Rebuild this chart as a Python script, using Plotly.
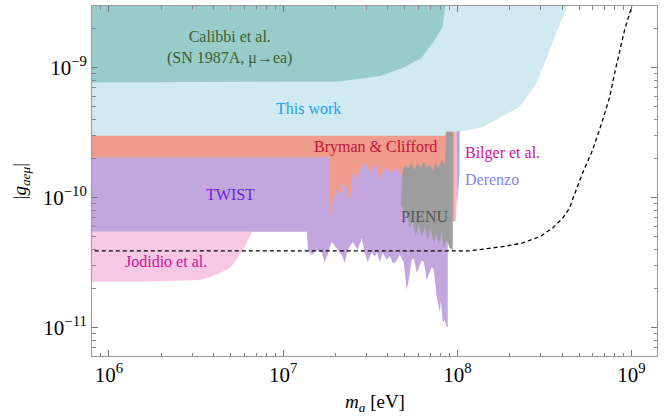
import plotly.graph_objects as go
import numpy as np

# ---------------- data (m_a in eV, |g| dimensionless) ----------------
this_work_m = [3e5, 4.4e8, 4.23e8, 3.39e8, 2.85e8, 2.28e8, 1.4e8, 1.03e8, 9.9e7, 3e5]
this_work_g = [5e-9, 5e-9, 2.9e-9, 1.37e-9, 7.59e-10, 5.01e-10, 3.5e-10, 3.22e-10, 2.9e-10, 2.9e-10]

calibbi_m = [3e5, 8.6e7, 8.55e7, 8.22e7, 7.41e7, 6.22e7, 4.86e7, 3.59e7, 2.11e7, 3e5]
calibbi_g = [5e-9, 5e-9, 3.0e-9, 2.06e-9, 1.63e-9, 1.19e-9, 9.95e-10, 8.63e-10, 7.84e-10, 7.67e-10]

bryman_m = [3e5, 8.5e7, 8.6e7, 9.66e7, 9.66e7, 9.4e7, 3e5]
bryman_g = [3.0e-10, 3.0e-10, 3.22e-10, 3.22e-10, 6.5e-11, 6.6e-11, 6.5e-11]

twist_m = [3e5, 1.83e7, 1.85e7, 1.93e7, 2.03e7, 2.11e7, 2.20e7, 2.32e7, 2.41e7, 2.51e7,
           2.65e7, 2.83e7, 3.02e7, 3.14e7, 3.27e7, 3.45e7, 3.59e7, 3.78e7, 3.94e7, 4.21e7,
           4.49e7, 4.67e7, 4.99e7, 6.08e7, 7.93e7, 8.81e7,
           8.81e7, 8.69e7, 8.47e7, 8.25e7, 8.04e7, 7.93e7, 7.62e7, 7.32e7, 7.13e7, 6.85e7,
           6.68e7, 6.42e7, 6.25e7, 6.01e7, 5.85e7, 5.62e7, 5.47e7, 5.26e7, 5.13e7, 4.92e7,
           4.67e7, 4.43e7, 4.26e7, 4.09e7, 3.94e7, 3.73e7, 3.59e7, 3.45e7, 3.36e7, 3.23e7,
           3.06e7, 2.94e7, 2.83e7, 2.68e7, 2.51e7, 2.35e7, 2.26e7, 2.17e7, 2.06e7, 1.98e7,
           1.90e7, 1.80e7, 1.73e7, 1.67e7, 1.58e7, 1.52e7, 1.46e7, 1.39e7, 1.37e7, 3e5]
twist_g = [2.05e-10, 2.05e-10, 6.98e-11, 9.6e-11, 1.15e-10, 1.03e-10, 1.30e-10, 1.19e-10, 9.1e-11, 1.58e-10,
           1.42e-10, 1.72e-10, 1.85e-10, 1.55e-10, 1.69e-10, 1.79e-10, 1.37e-10, 1.63e-10, 1.69e-10, 1.55e-10,
           1.69e-10, 1.58e-10, 1.25e-10, 1.15e-10, 1.05e-10, 9.6e-11,
           1.01e-11, 1.01e-11, 1.15e-11, 1.09e-11, 1.63e-11, 1.30e-11, 1.72e-11, 2.78e-11, 2.93e-11, 2.54e-11,
           2.33e-11, 3.2e-11, 3.32e-11, 2.87e-11, 2.64e-11, 3.43e-11, 3.32e-11, 2.33e-11, 1.95e-11, 3.2e-11,
           3.62e-11, 3.2e-11, 3.14e-11, 3.56e-11, 3.32e-11, 3.76e-11, 3.2e-11, 3.82e-11, 3.49e-11, 3.82e-11,
           3.2e-11, 3.76e-11, 4.9e-11, 3.96e-11, 4.56e-11, 3.96e-11, 3.14e-11, 3.62e-11, 3.96e-11, 4.18e-11,
           4.56e-11, 3.62e-11, 3.2e-11, 3.76e-11, 3.96e-11, 3.82e-11, 3.62e-11, 3.96e-11, 5.47e-11, 5.47e-11]

jodidio_m = [3e5, 6.67e6, 5.87e6, 5.4e6, 4.94e6, 4.33e6, 3.8e6, 3.33e6, 1.72e6, 3e5]
jodidio_g = [5.47e-11, 5.47e-11, 3.96e-11, 3.32e-11, 2.86e-11, 2.62e-11, 2.45e-11, 2.33e-11, 2.27e-11, 2.23e-11]

pienu_m = [4.73e7, 4.86e7, 5.06e7, 5.26e7, 5.47e7, 5.70e7, 5.93e7, 6.17e7, 6.42e7, 6.68e7,
           6.95e7, 7.22e7, 7.52e7, 7.82e7, 8.13e7, 8.47e7, 8.69e7, 9.41e7, 9.41e7,
           9.04e7, 8.69e7, 8.35e7, 8.13e7, 7.82e7, 7.62e7, 7.32e7, 7.03e7, 6.76e7, 6.50e7,
           6.25e7, 6.01e7, 5.77e7, 5.55e7, 5.33e7, 5.13e7, 4.92e7]
pienu_g = [8.79e-11, 1.63e-10, 1.79e-10, 1.69e-10, 1.85e-10, 1.63e-10, 1.85e-10, 1.69e-10, 1.88e-10, 1.69e-10,
           1.79e-10, 1.63e-10, 1.85e-10, 1.69e-10, 1.95e-10, 1.79e-10, 3.22e-10, 3.22e-10, 3.96e-11,
           4.1e-11, 4.73e-11, 4.1e-11, 5.44e-11, 4.33e-11, 5.35e-11, 4.49e-11, 5.86e-11, 4.73e-11, 5.95e-11,
           4.9e-11, 6.28e-11, 5.07e-11, 6.5e-11, 5.86e-11, 7.36e-11, 8.04e-11]

bilger_m = [9.66e7, 1.0e8, 1.0e8, 9.8e7, 9.66e7]
bilger_g = [3.22e-10, 3.22e-10, 1.1e-10, 6.7e-11, 6.5e-11]

derenzo_m = [9.95e7, 1.03e8, 1.03e8, 1.0e8]
derenzo_g = [3.25e-10, 3.25e-10, 1.6e-10, 8.8e-11]

dashed_m = [3e5, 1.18e8, 1.53e8, 1.92e8, 2.37e8, 2.97e8, 3.53e8, 4.03e8, 4.42e8, 4.6e8,
            5.24e8, 5.98e8, 6.83e8, 7.49e8, 8.0e8, 8.55e8, 9.12e8, 1.0e9, 1.03e9]
dashed_g = [3.9e-11, 3.9e-11, 4.08e-11, 4.25e-11, 4.49e-11, 5.01e-11, 5.85e-11, 6.98e-11, 8.34e-11, 9.8e-11,
            1.55e-10, 2.33e-10, 3.96e-10, 5.95e-10, 9.1e-10, 1.37e-9, 1.95e-9, 2.93e-9, 3.5e-9]

labels = ["Calibbi et al.<br>(SN 1987A, μ→ea)", "This work", "Bryman &amp; Clifford", "Bilger et al.",
          "Derenzo", "TWIST", "PIENU", "Jodidio et al."]
label_m = [4.94e6, 1.39e7, 3.4e7, 1.075e8, 1.075e8, 4.99e6, 6.5e7, 2.12e6]
label_g = [1.44e-9, 4.9e-10, 2.45e-10, 2.21e-10, 1.39e-10, 1.06e-10, 7.2e-11, 3.22e-11]
label_colors = ["#3e5c2c", "#1aa0f0", "#c01438", "#d4109c", "#8484ee", "#6a1fe0", "#555555", "#d4109c"]
label_anchor = ["center", "center", "center", "left", "left", "center", "center", "center"]

x_tickvals = [1e6, 1e7, 1e8, 1e9]
x_ticktext = ["10<sup>6</sup>", "10<sup>7</sup>", "10<sup>8</sup>", "10<sup>9</sup>"]
y_tickvals = [1e-11, 1e-10, 1e-9]
y_ticktext = ["10<sup>−11</sup>", "10<sup>−10</sup>", "10<sup>−9</sup>"]

# ---------------- figure ----------------
fig = go.Figure()

def region(m, g, color):
    fig.add_trace(go.Scatter(x=m, y=g, mode="lines", fill="toself", fillcolor=color,
                             line=dict(width=0, color=color), hoverinfo="skip", showlegend=False))

region(this_work_m, this_work_g, "#d1e9f0")
region(calibbi_m, calibbi_g, "#97cccb")
region(bryman_m, bryman_g, "#f09c8d")
region(twist_m, twist_g, "#c4a6de")
region(jodidio_m, jodidio_g, "#f6c8e3")
region(pienu_m, pienu_g, "#9d9d9d")
region(bilger_m, bilger_g, "#f4b8d4")
region(derenzo_m, derenzo_g, "#a3a8ee")

fig.add_trace(go.Scatter(x=dashed_m, y=dashed_g, mode="lines",
                         line=dict(color="black", width=1.3, dash="4px,3px"),
                         hoverinfo="skip", showlegend=False))

for t, mx, gy, c, a in zip(labels, label_m, label_g, label_colors, label_anchor):
    fig.add_annotation(x=np.log10(mx), y=np.log10(gy), text=t, showarrow=False,
                       xanchor=a, yanchor="middle", font=dict(color=c, size=16))

# axis titles
fig.add_annotation(xref="paper", yref="paper", x=0.5, y=-0.135, xanchor="center", yanchor="middle",
                   text="<i>m</i><sub><i>a</i></sub> [eV]", showarrow=False,
                   font=dict(size=19, color="black"))
fig.add_annotation(xref="paper", yref="paper", x=-0.125, y=0.5, xanchor="center", yanchor="middle",
                   text="|<i>g</i><sub><i>aeμ</i></sub>|", showarrow=False, textangle=-90,
                   font=dict(size=19, color="black"))

minor_x = [k * 10.0**e for e in range(5, 10) for k in range(2, 10)]
minor_y = [k * 10.0**e for e in range(-12, -8) for k in range(2, 10)]

axis_common = dict(type="log", showgrid=False, zeroline=False, showline=True, automargin=False,
                   linecolor="#9a9a9a", linewidth=1, mirror="ticks",
                   ticks="inside", ticklen=6, tickcolor="#777777", tickwidth=1)

fig.update_xaxes(range=[np.log10(8.0e5), np.log10(1.4e9)], tickvals=x_tickvals, ticktext=x_ticktext,
                 tickfont=dict(size=21, color="black", family="Liberation Serif"),
                 minor=dict(tickvals=minor_x, ticks="inside", ticklen=3.5, tickcolor="#888888"),
                 **axis_common)
fig.update_yaxes(range=[-11.218, -8.525], tickvals=y_tickvals, ticktext=y_ticktext,
                 tickfont=dict(size=21, color="black", family="Liberation Serif"),
                 minor=dict(tickvals=minor_y, ticks="inside", ticklen=3.5, tickcolor="#888888"),
                 **axis_common)

fig.update_layout(width=667, height=416, margin=dict(l=92, r=10, t=6, b=60),
                  paper_bgcolor="white", plot_bgcolor="white",
                  font=dict(family="Liberation Serif", color="black"))

fig.write_html("out.html", config={"displayModeBar": False},
               post_script="document.body.style.margin='0px';")
